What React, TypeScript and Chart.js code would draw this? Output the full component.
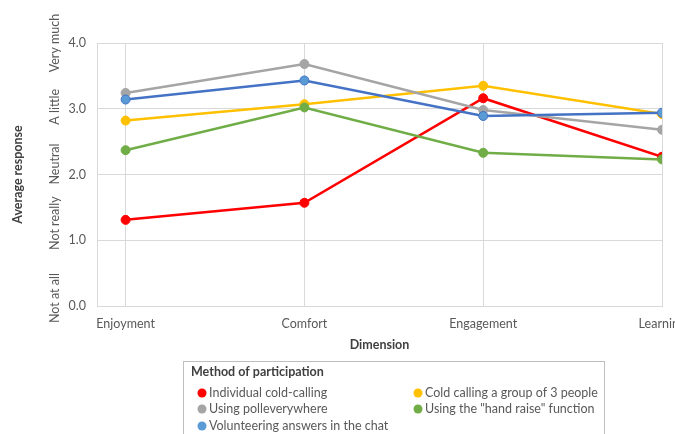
import React, { useEffect, useRef } from "react";
import { Chart, registerables } from "chart.js";

Chart.register(...registerables);

const categories = ["Enjoyment", "Comfort", "Engagement", "Learning"];
const seriesNames = [
  "Individual cold-calling",
  "Cold calling a group of 3 people",
  "Using polleverywhere",
  'Using the "hand raise" function',
  "Volunteering answers in the chat",
];
const individualColdCalling = [1.31, 1.57, 3.16, 2.27];
const groupColdCalling = [2.82, 3.07, 3.35, 2.92];
const pollEverywhere = [3.24, 3.68, 2.98, 2.68];
const handRaise = [2.37, 3.02, 2.33, 2.23];
const chatVolunteering = [3.14, 3.43, 2.89, 2.94];
const yTickValues = [0, 1, 2, 3, 4];
const responseLabels = ["Not at all", "Not really", "Neutral", "A little", "Very much"];

const FONT = "Lato, 'Open Sans', sans-serif";

const seriesStyles = [
  { line: "#FF0000", point: "#FF0000", border: "#FF0000" },
  { line: "#FFC000", point: "#FFC000", border: "#FFC000" },
  { line: "#A5A5A5", point: "#A5A5A5", border: "#A5A5A5" },
  { line: "#70AD47", point: "#70AD47", border: "#70AD47" },
  { line: "#4472C4", point: "#5B9BD5", border: "#4472C4" },
];

const seriesValues = [individualColdCalling, groupColdCalling, pollEverywhere, handRaise, chatVolunteering];

const sideLabelsPlugin = {
  id: "sideLabels",
  afterDraw(chart: any) {
    const ctx = chart.ctx;
    const y = chart.scales.y;
    const anchors = [0.12, 1.26, 2.16, 3.03, 4.0];
    ctx.save();
    ctx.fillStyle = "#595959";
    ctx.font = `12.5px ${FONT}`;
    ctx.textAlign = "center";
    ctx.textBaseline = "middle";
    responseLabels.forEach((t, i) => {
      ctx.save();
      ctx.translate(55, y.getPixelForValue(anchors[i]));
      ctx.rotate(-Math.PI / 2);
      ctx.fillText(t, 0, 0);
      ctx.restore();
    });
    ctx.restore();
  },
};

const boxLegendPlugin = {
  id: "boxLegend",
  afterDraw(chart: any) {
    const ctx = chart.ctx;
    const left = 183;
    const top = 361;
    const right = 604;
    ctx.save();
    ctx.strokeStyle = "#BFBFBF";
    ctx.lineWidth = 1;
    ctx.strokeRect(left + 0.5, top + 0.5, right - left, 100);
    ctx.fillStyle = "#404040";
    ctx.font = `bold 12.5px ${FONT}`;
    ctx.textAlign = "left";
    ctx.textBaseline = "middle";
    ctx.fillText("Method of participation", 191, 372);
    const rowsY = [393, 409, 426];
    const colDot = [202, 418];
    chart.data.datasets.forEach((ds: any, i: number) => {
      const row = Math.floor(i / 2);
      const col = i % 2;
      const cy = rowsY[row];
      const cx = colDot[col];
      ctx.beginPath();
      ctx.arc(cx, cy, 4.5, 0, Math.PI * 2);
      ctx.fillStyle = ds.pointBackgroundColor;
      ctx.fill();
      ctx.fillStyle = "#595959";
      ctx.font = `12.5px ${FONT}`;
      ctx.fillText(ds.label, cx + 7, cy);
    });
    ctx.restore();
  },
};

export default function App() {
  const ref = useRef<HTMLCanvasElement | null>(null);
  useEffect(() => {
    if (!ref.current) return;
    const chart = new Chart(ref.current, {
      type: "line",
      data: {
        datasets: seriesNames.map((name, i) => ({
          label: name,
          data: seriesValues[i].map((v, j) => ({ x: j, y: v })),
          borderColor: seriesStyles[i].line,
          backgroundColor: seriesStyles[i].point,
          pointBackgroundColor: seriesStyles[i].point,
          pointBorderColor: seriesStyles[i].border,
          pointBorderWidth: 1,
          pointRadius: 4.5,
          borderWidth: 2.5,
          tension: 0,
          order: seriesNames.length - i,
        })),
      },
      options: {
        responsive: false,
        animation: false,
        devicePixelRatio: 1,
        layout: { padding: { top: 43, right: 13, bottom: 73, left: 0 } },
        plugins: { legend: { display: false }, tooltip: { enabled: false } },
        scales: {
          x: {
            type: "linear",
            min: -0.16,
            max: 3,
            afterBuildTicks: (s: any) => {
              s.ticks = categories.map((_, i) => ({ value: i }));
            },
            afterFit: (s: any) => {
              s.height = 55;
              s.paddingLeft = 0;
              s.paddingRight = 0;
            },
            ticks: {
              callback: (_v: any, idx: number) => categories[idx],
              color: "#595959",
              font: { family: FONT, size: 12.5 },
              padding: 10,
              maxRotation: 0,
              autoSkip: false,
            },
            grid: { color: "#D9D9D9", drawTicks: false },
            border: { color: "#D9D9D9" },
            title: {
              display: true,
              text: "Dimension",
              color: "#404040",
              font: { family: FONT, size: 12.5, weight: "bold" },
              padding: { top: 0, bottom: 9 },
            },
          },
          y: {
            min: 0,
            max: 4,
            afterBuildTicks: (s: any) => {
              s.ticks = yTickValues.map((v) => ({ value: v }));
            },
            afterFit: (s: any) => {
              s.width = 97;
            },
            ticks: {
              callback: (v: any) => Number(v).toFixed(1),
              color: "#595959",
              font: { family: FONT, size: 12.5 },
              padding: 11,
            },
            grid: { color: "#D9D9D9", drawTicks: false },
            border: { color: "#D9D9D9" },
            title: {
              display: true,
              text: "Average response",
              color: "#404040",
              font: { family: FONT, size: 12.5, weight: "bold" },
              padding: { top: 10, bottom: 0 },
            },
          },
        },
      },
      plugins: [sideLabelsPlugin, boxLegendPlugin],
    });
    return () => chart.destroy();
  }, []);
  return (
    <div style={{ position: "fixed", left: 0, top: 0, width: 675, height: 434, background: "#fff" }}>
      <canvas ref={ref} width={675} height={434} style={{ display: "block" }} />
    </div>
  );
}
